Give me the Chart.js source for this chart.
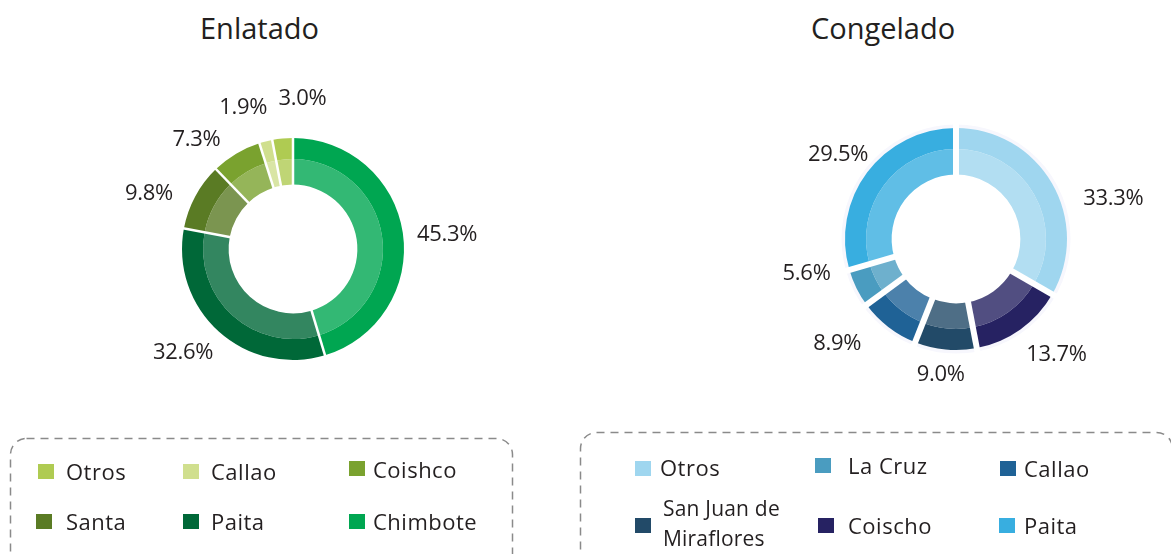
<!DOCTYPE html>
<html lang="es">
<head>
<meta charset="utf-8">
<title>Enlatado y Congelado</title>
<script src="https://cdn.jsdelivr.net/npm/chart.js@4.4.1/dist/chart.umd.min.js"></script>
<style>
  html, body { margin: 0; padding: 0; background: #fff; }
  body { width: 1171px; height: 554px; position: relative; overflow: hidden;
         font-family: "Open Sans", sans-serif; color: #231F20; }
  .titulo { position: absolute; top: 13px; font-size: 29px; line-height: 29px; white-space: nowrap; }
  canvas { position: absolute; }
  svg.cajas { position: absolute; left: 0; top: 0; }
  .item { position: absolute; font-size: 22px; line-height: 22px; letter-spacing: 0.5px; white-space: nowrap; }
  .item.dos { font-size: 21px; line-height: 30px; letter-spacing: 0.2px; white-space: normal; width: 130px; }
  .cuadro { position: absolute; width: 16px; height: 15px; }
</style>
</head>
<body>
<div class="titulo" style="left:200px">Enlatado</div>
<div class="titulo" style="left:811px">Congelado</div>

<canvas id="enlatado" width="570" height="370" style="left:0;top:60px"></canvas>
<canvas id="congelado" width="591" height="370" style="left:580px;top:60px"></canvas>

<svg class="cajas" width="1171" height="554">
  <rect x="10.5" y="438.5" width="502" height="140" rx="16" fill="none" stroke="#8a8a8a" stroke-width="1.5" stroke-dasharray="8 6"/>
  <rect x="580.5" y="432.5" width="592" height="150" rx="16" fill="none" stroke="#8a8a8a" stroke-width="1.5" stroke-dasharray="8 6"/>
</svg>
<div id="leyendas"></div>

<script>
// Enlatado, clockwise from 12 o'clock
const enlatadoLabels = ["Chimbote", "Paita", "Santa", "Coishco", "Callao", "Otros"];
const enlatadoValues = [45.3, 32.6, 9.8, 7.3, 1.9, 3.0];
const enlatadoColors = ["#00A651", "#006838", "#5A7B24", "#7AA22F", "#D0DF8E", "#AFCB52"];

// Congelado, clockwise from 12 o'clock
const congeladoLabels = ["Otros", "Coischo", "San Juan de Miraflores", "Callao", "La Cruz", "Paita"];
const congeladoValues = [33.3, 13.7, 9.0, 8.9, 5.6, 29.5];
const congeladoColors = ["#9FD6EF", "#262262", "#224A68", "#1F6296", "#4A9CC0", "#38AEE0"];

// lighter inner band = outer colour mixed with 20% white
const lighten = (hex, t) => {
    const n = parseInt(hex.slice(1), 16);
    const mix = c => Math.round(c + (255 - c) * t);
    return `rgb(${mix(n >> 16)},${mix((n >> 8) & 255)},${mix(n & 255)})`;
};

const ringExtras = {
    id: "ringExtras",
    beforeDatasetsDraw(chart, args, opts) {
        if (!opts.halo) return;
        const a = chart.getDatasetMeta(0).data[0];
        const ctx = chart.ctx;
        ctx.save();
        ctx.beginPath();
        ctx.arc(a.x, a.y, a.outerRadius + 1.5, 0, Math.PI * 2);
        ctx.strokeStyle = opts.halo;
        ctx.lineWidth = 4;
        ctx.stroke();
        ctx.restore();
    },
    afterDatasetsDraw(chart, args, opts) {
        const outer = chart.getDatasetMeta(0).data;
        const inner = chart.getDatasetMeta(1).data;
        const values = chart.data.datasets[0].data;
        const ctx = chart.ctx;
        ctx.save();

        // white gaps between the slices
        ctx.strokeStyle = "#fff";
        ctx.lineWidth = opts.gap;
        outer.forEach((a, i) => {
            const r0 = inner[i].innerRadius - 1, r1 = a.outerRadius + 5;
            const ang = a.startAngle;
            ctx.beginPath();
            ctx.moveTo(a.x + r0 * Math.cos(ang), a.y + r0 * Math.sin(ang));
            ctx.lineTo(a.x + r1 * Math.cos(ang), a.y + r1 * Math.sin(ang));
            ctx.stroke();
        });

        // percentage labels
        ctx.font = '22px "Open Sans"';
        ctx.letterSpacing = "-0.3px";
        ctx.fillStyle = "#231F20";
        ctx.textAlign = "center";
        ctx.textBaseline = "alphabetic";
        outer.forEach((a, i) => {
            const mid = (a.startAngle + a.endAngle) / 2 + opts.nudgeAngle[i] * Math.PI / 180;
            const r = opts.labelRadius + opts.nudgeRadius[i];
            ctx.fillText(values[i].toFixed(1) + "%", a.x + r * Math.cos(mid), a.y + r * Math.sin(mid) + 8);
        });
        ctx.restore();
    }
};

const makeDonut = (id, labels, values, colors, padding, extras) => {
    new Chart(document.getElementById(id), {
        type: "doughnut",
        data: {
            labels: labels,
            datasets: [
                { data: values, backgroundColor: colors, borderWidth: 0, weight: 21 },
                { data: values, backgroundColor: colors.map(c => lighten(c, 0.2)), borderWidth: 0, weight: 25.5 }
            ]
        },
        options: {
            responsive: false,
            animation: false,
            events: [],
            cutout: "58%",
            layout: { padding: padding },
            plugins: {
                legend: { display: false },
                tooltip: { enabled: false },
                ringExtras: extras
            }
        },
        plugins: [ringExtras]
    });
};

makeDonut("enlatado", enlatadoLabels, enlatadoValues, enlatadoColors,
    { left: 182, right: 166, top: 78, bottom: 70 },
    { gap: 2.5, labelRadius: 152, nudgeAngle: [2.3, 5.1, -6.8, -10.2, -5, 9], nudgeRadius: [3, -2, 3, -5, -1, 0] });

makeDonut("congelado", congeladoLabels, congeladoValues, congeladoColors,
    { left: 265, right: 104, top: 68, bottom: 80 },
    { gap: 6, halo: "#F7F7FD", labelRadius: 152, nudgeAngle: [15, -5.9, 1.1, 11.5, 13.9, -0.8], nudgeRadius: [11, 0, -17, 5, 1, -6] });

// legends (HTML, laid out like the original boxes)
const leyenda = [
    { labels: enlatadoLabels, colors: enlatadoColors, items: [
        ["Otros", 38, 464, 66, 479], ["Callao", 183, 464, 211, 479], ["Coishco", 349, 461, 373, 477],
        ["Santa", 36, 514, 66, 529], ["Paita", 183, 514, 211, 529], ["Chimbote", 349, 514, 373, 529]
    ]},
    { labels: congeladoLabels, colors: congeladoColors, items: [
        ["Otros", 635, 461, 660, 475], ["La Cruz", 815, 458, 848, 473], ["Callao", 1000, 461, 1024, 476],
        ["San Juan de Miraflores", 635, 518, 663, 516], ["Coischo", 818, 518, 848, 533], ["Paita", 999, 518, 1024, 533]
    ]}
];

const cont = document.getElementById("leyendas");
leyenda.forEach(g => {
    g.items.forEach(([name, sx, sy, tx, base]) => {
        const sq = document.createElement("div");
        sq.className = "cuadro";
        sq.style.left = sx + "px";
        sq.style.top = sy + "px";
        sq.style.background = g.colors[g.labels.indexOf(name)];
        cont.appendChild(sq);

        const t = document.createElement("div");
        const twoLines = name.length > 15;
        t.className = twoLines ? "item dos" : "item";
        t.textContent = name;
        t.style.left = tx + "px";
        t.style.top = (base - (twoLines ? 23.5 : 19.5)) + "px";
        cont.appendChild(t);
    });
});
</script>
</body>
</html>
